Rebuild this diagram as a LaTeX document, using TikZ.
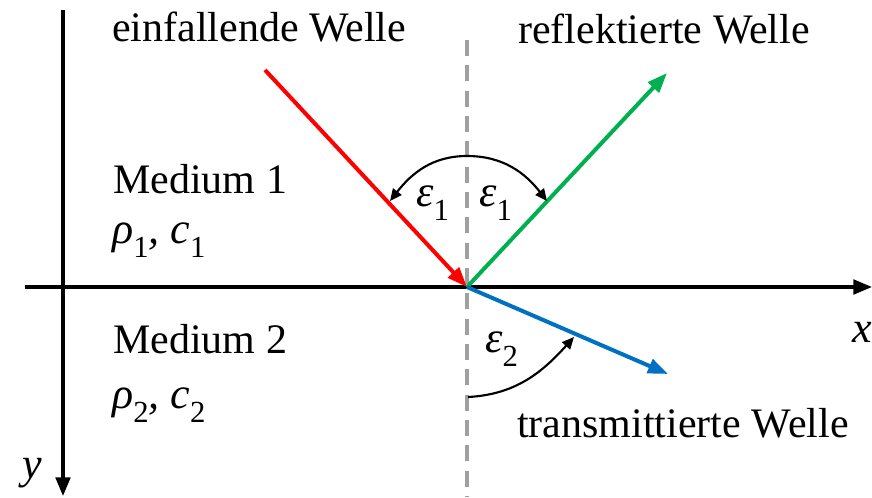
\documentclass[tikz,border=0pt]{standalone}
\usepackage{fontspec}
\setmainfont{Liberation Serif}
\newfontfamily\libser{Liberation Serif}
\usetikzlibrary{arrows.meta}
\newcommand\mysub[1]{\raisebox{-0.32em}{\fontsize{23}{25}\selectfont #1}}
\begin{document}
\begin{tikzpicture}[x=0.75pt,y=-0.75pt,
  axis/.style={line width=2.4pt,-{Triangle[length=14pt,width=11pt]}},
  wave/.style={line width=3pt,-{Triangle[length=15pt,width=11pt]}},
  angarrow/.style={line width=1.6pt,-{Triangle[length=9pt,width=8pt]}},
  lbl/.style={anchor=base west,inner sep=0pt,font=\libser\fontsize{31.5}{36}\selectfont},
  mlbl/.style={anchor=base west,inner sep=0pt,font=\libser\fontsize{33}{36}\selectfont\itshape}]
\useasboundingbox (0,0) rectangle (872,497);
% coordinates
\coordinate (ytop) at (63,10);
\coordinate (ybot) at (63,496);
\coordinate (xl) at (25,287);
\coordinate (xr) at (872,287);
\coordinate (O) at (467,287);
\coordinate (dtop) at (467,40);
\coordinate (dbot) at (467,497);
\coordinate (rs) at (265,70);
\coordinate (ge) at (667,73);
\coordinate (be) at (668,374);
\coordinate (atop) at (467,156);
\coordinate (aleft) at (390,201);
\coordinate (aright) at (547,201);
\coordinate (bstart) at (468,397);
\coordinate (bend) at (574,337);
% dashed normal
\draw[line width=2.4pt,color={rgb,255:red,160;green,160;blue,160},dash pattern=on 12pt off 7pt] (dtop) -- (dbot);
% axes
\draw[axis] (ytop) -- (ybot);
\draw[axis] (xl) -- (xr);
% waves
\draw[wave,color={rgb,255:red,255;green,0;blue,0}] (rs) -- (O);
\draw[wave,color={rgb,255:red,0;green,176;blue,80}] (O) -- (ge);
\draw[wave,color={rgb,255:red,0;green,112;blue,192}] (O) -- (be);
% angle arcs
\draw[angarrow] (atop) to[out=180,in=52] (aleft);
\draw[angarrow] (atop) to[out=0,in=128] (aright);
\draw[angarrow] (bstart) to[out=3,in=228] (bend);
% labels
\node[lbl] (einf) at (112,41) {einfallende Welle};
\node[lbl] (refl) at (518,43) {reflektierte Welle};
\node[lbl] (trans) at (517,437) {transmittierte Welle};
\node[lbl] (m1) at (113,193) {Medium 1};
\node[lbl] (m2) at (113,353) {Medium 2};
\node[mlbl] (p1) at (112,243) {ρ\mysub{\upshape 1}, c\mysub{\upshape 1}};
\node[mlbl] (p2) at (112,408) {ρ\mysub{\upshape 2}, c\mysub{\upshape 2}};
\node[mlbl] (e1l) at (416,206) {ε\mysub{\upshape 1}};
\node[mlbl] (e1r) at (479,206) {ε\mysub{\upshape 1}};
\node[mlbl] (e2) at (485,352) {ε\mysub{\upshape 2}};
\node[mlbl] (ylab) at (22,478) {y};
\node[mlbl] (xlab) at (852,342) {x};
\end{tikzpicture}
\end{document}
